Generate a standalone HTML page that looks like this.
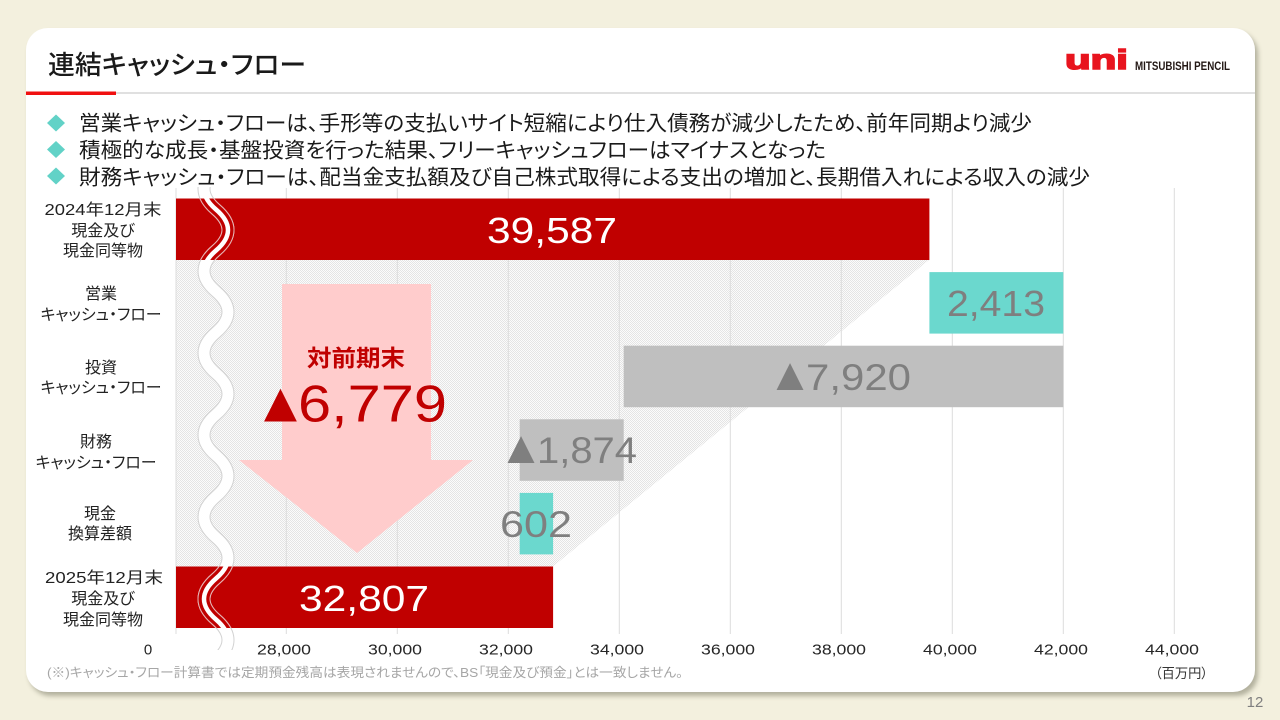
<!DOCTYPE html>
<html><head><meta charset="utf-8"><style>
html,body{margin:0;padding:0;}
body{width:1280px;height:720px;overflow:hidden;background:#f3f0de;position:relative;font-family:"Liberation Sans","Noto Sans CJK JP",sans-serif;}
.card{position:absolute;left:26px;top:28px;width:1229px;height:664px;background:#fff;border-radius:22px;box-shadow:3px 4px 5px rgba(100,100,80,0.45);}
svg{position:absolute;left:0;top:0;}
text{font-family:"Liberation Sans","Noto Sans CJK JP",sans-serif;font-feature-settings:"palt";}
</style></head><body>
<div class="card"></div>
<svg width="1280" height="720" viewBox="0 0 1280 720" xmlns="http://www.w3.org/2000/svg">
<defs>
<pattern id="dots" width="2" height="2" patternUnits="userSpaceOnUse">
<rect width="2" height="2" fill="#fbfbfb"/>
<rect x="0" y="0" width="1" height="1" fill="#e4e4e4"/>
<rect x="1" y="1" width="1" height="1" fill="#e4e4e4"/>
</pattern>
<clipPath id="waveclip"><rect x="150" y="187" width="120" height="463"/></clipPath>
<clipPath id="barclip">
<rect x="176" y="198.5" width="753" height="61.5"/>
<rect x="176" y="566.5" width="377" height="61.5"/>
</clipPath>
</defs>

<!-- title -->
<text x="48" y="74" font-size="26" font-weight="500" fill="#1a1a1a" textLength="258" lengthAdjust="spacingAndGlyphs">連結キャッシュ・フロー</text>
<rect x="26" y="92.5" width="1229" height="1" fill="#c0c0c0"/>
<rect x="26" y="91.5" width="90" height="3.5" fill="#f01010"/>

<!-- logo -->
<text x="1065" y="69" font-size="28" font-weight="bold" fill="#e8141e" stroke="#e8141e" stroke-width="1.6" textLength="63" lengthAdjust="spacingAndGlyphs">uni</text>
<text x="1135" y="70" font-size="11.5" font-weight="bold" fill="#231815" textLength="95" lengthAdjust="spacingAndGlyphs">MITSUBISHI PENCIL</text>

<!-- bullets -->
<polygon points="56,114.5 65,123 56,131.5 47,123" fill="#62d2c7"/>
<polygon points="56,141 65,149.5 56,158 47,149.5" fill="#62d2c7"/>
<polygon points="56,167.5 65,176 56,184.5 47,176" fill="#62d2c7"/>
<text x="79" y="130.5" font-size="21" fill="#1a1a1a" textLength="953" lengthAdjust="spacingAndGlyphs">営業キャッシュ・フローは、手形等の支払いサイト短縮により仕入債務が減少したため、前年同期より減少</text>
<text x="79" y="157.5" font-size="21" fill="#1a1a1a" textLength="747" lengthAdjust="spacingAndGlyphs">積極的な成長・基盤投資を行った結果、フリーキャッシュフローはマイナスとなった</text>
<text x="79" y="184.5" font-size="21" fill="#1a1a1a" textLength="1011" lengthAdjust="spacingAndGlyphs">財務キャッシュ・フローは、配当金支払額及び自己株式取得による支出の増加と、長期借入れによる収入の減少</text>

<!-- hatch area -->
<polygon points="176,260 929,260 553,566.5 176,566.5" fill="url(#dots)"/>

<!-- gridlines -->
<g stroke="#dcdcdc" stroke-width="1">
<line x1="176" y1="188" x2="176" y2="634"/>
<line x1="286.3" y1="188" x2="286.3" y2="634"/>
<line x1="397.3" y1="188" x2="397.3" y2="634"/>
<line x1="508.3" y1="188" x2="508.3" y2="634"/>
<line x1="619.3" y1="188" x2="619.3" y2="634"/>
<line x1="730.3" y1="188" x2="730.3" y2="634"/>
<line x1="841.3" y1="188" x2="841.3" y2="634"/>
<line x1="952.3" y1="188" x2="952.3" y2="634"/>
<line x1="1063.3" y1="188" x2="1063.3" y2="634"/>
<line x1="1174.3" y1="188" x2="1174.3" y2="634"/>
</g>

<!-- bars -->
<rect x="176" y="198.5" width="753.4" height="61.5" fill="#c00000"/>
<rect x="929.4" y="272.1" width="133.9" height="61.5" fill="#6bd8ce"/>
<rect x="623.7" y="345.7" width="439.6" height="61.5" fill="#bfbfbf"/>
<rect x="519.7" y="419.3" width="104" height="61.5" fill="#bfbfbf"/>
<rect x="519.7" y="492.9" width="33.4" height="61.5" fill="#6bd8ce"/>
<rect x="176" y="566.5" width="377.1" height="61.5" fill="#c00000"/>

<!-- pink arrow -->
<polygon points="282,284 431,284 431,460 473,460 357,553 239,460 282,460" fill="#ffcccc"/>

<!-- wave break -->
<g clip-path="url(#waveclip)" fill="none">
<path d="M 216,168.5 Q 192,189 216,209.5 T 216,250.5 T 216,291.5 T 216,332.5 T 216,373.5 T 216,414.5 T 216,455.5 T 216,496.5 T 216,537.5 T 216,578.5 T 216,619.5 T 216,660.5" stroke="#d2d2d2" stroke-width="13"/>
<path d="M 216,168.5 Q 192,189 216,209.5 T 216,250.5 T 216,291.5 T 216,332.5 T 216,373.5 T 216,414.5 T 216,455.5 T 216,496.5 T 216,537.5 T 216,578.5 T 216,619.5 T 216,660.5" stroke="#ffffff" stroke-width="11"/>
</g>
<g clip-path="url(#barclip)" fill="none">
<path d="M 216,168.5 Q 192,189 216,209.5 T 216,250.5 T 216,291.5 T 216,332.5 T 216,373.5 T 216,414.5 T 216,455.5 T 216,496.5 T 216,537.5 T 216,578.5 T 216,619.5 T 216,660.5" stroke="#e7b3b3" stroke-width="13"/>
<path d="M 216,168.5 Q 192,189 216,209.5 T 216,250.5 T 216,291.5 T 216,332.5 T 216,373.5 T 216,414.5 T 216,455.5 T 216,496.5 T 216,537.5 T 216,578.5 T 216,619.5 T 216,660.5" stroke="#c00000" stroke-width="11"/>
<path d="M 216,168.5 Q 192,189 216,209.5 T 216,250.5 T 216,291.5 T 216,332.5 T 216,373.5 T 216,414.5 T 216,455.5 T 216,496.5 T 216,537.5 T 216,578.5 T 216,619.5 T 216,660.5" stroke="#ffffff" stroke-width="4.5"/>
</g>

<!-- bar value labels -->
<text x="487" y="243" font-size="36" fill="#ffffff" textLength="130" lengthAdjust="spacingAndGlyphs">39,587</text>
<text x="947" y="316" font-size="36" fill="#7f7f7f" textLength="98" lengthAdjust="spacingAndGlyphs">2,413</text>
<text x="790" y="390" font-size="46" fill="#7f7f7f" text-anchor="middle">▲</text>
<text x="806" y="390" font-size="37" fill="#7f7f7f" textLength="105" lengthAdjust="spacingAndGlyphs">7,920</text>
<text x="521" y="463" font-size="46" fill="#7f7f7f" text-anchor="middle">▲</text>
<text x="537" y="463" font-size="37" fill="#7f7f7f" textLength="100" lengthAdjust="spacingAndGlyphs">1,874</text>
<text x="500" y="537" font-size="37" fill="#7f7f7f" textLength="72" lengthAdjust="spacingAndGlyphs">602</text>
<text x="299" y="611" font-size="36" fill="#ffffff" textLength="130" lengthAdjust="spacingAndGlyphs">32,807</text>

<!-- arrow labels -->
<text x="307" y="366" font-size="23" font-weight="bold" fill="#c00000" textLength="98" lengthAdjust="spacingAndGlyphs">対前期末</text>
<text x="280.5" y="421.5" font-size="56" fill="#c00000" text-anchor="middle">▲</text>
<text x="298" y="421.5" font-size="52" fill="#c00000" textLength="149" lengthAdjust="spacingAndGlyphs">6,779</text>

<!-- category labels -->
<g font-size="16" fill="#222" text-anchor="middle">
<text x="103" y="215" textLength="117" lengthAdjust="spacingAndGlyphs">2024年12月末</text>
<text x="103" y="236">現金及び</text>
<text x="103" y="256">現金同等物</text>
<text x="101" y="299">営業</text>
<text x="101" y="320" textLength="121" lengthAdjust="spacingAndGlyphs">キャッシュ・フロー</text>
<text x="101" y="373">投資</text>
<text x="101" y="393" textLength="121" lengthAdjust="spacingAndGlyphs">キャッシュ・フロー</text>
<text x="96" y="447">財務</text>
<text x="96" y="468" textLength="121" lengthAdjust="spacingAndGlyphs">キャッシュ・フロー</text>
<text x="100" y="519">現金</text>
<text x="100" y="539">換算差額</text>
<text x="104" y="583" textLength="118" lengthAdjust="spacingAndGlyphs">2025年12月末</text>
<text x="103" y="604">現金及び</text>
<text x="103" y="625">現金同等物</text>
</g>

<!-- axis labels -->
<g font-size="15" fill="#262626" text-anchor="middle">
<text x="148" y="654.5">0</text>
<text x="284" y="654.5" textLength="54" lengthAdjust="spacingAndGlyphs">28,000</text>
<text x="395" y="654.5" textLength="54" lengthAdjust="spacingAndGlyphs">30,000</text>
<text x="506" y="654.5" textLength="54" lengthAdjust="spacingAndGlyphs">32,000</text>
<text x="617" y="654.5" textLength="54" lengthAdjust="spacingAndGlyphs">34,000</text>
<text x="728" y="654.5" textLength="54" lengthAdjust="spacingAndGlyphs">36,000</text>
<text x="839" y="654.5" textLength="54" lengthAdjust="spacingAndGlyphs">38,000</text>
<text x="950" y="654.5" textLength="54" lengthAdjust="spacingAndGlyphs">40,000</text>
<text x="1061" y="654.5" textLength="54" lengthAdjust="spacingAndGlyphs">42,000</text>
<text x="1172" y="654.5" textLength="54" lengthAdjust="spacingAndGlyphs">44,000</text>
</g>

<!-- footnote / unit -->
<text x="47" y="677" font-size="13" fill="#a6a6a6" textLength="636" lengthAdjust="spacingAndGlyphs">(※)キャッシュ・フロー計算書では定期預金残高は表現されませんので、BS「現金及び預金」とは一致しません。</text>
<text x="1155" y="678" font-size="13.5" fill="#333" textLength="53" lengthAdjust="spacingAndGlyphs">（百万円）</text>

<!-- page number -->
<text x="1255" y="707" font-size="15" fill="#7f7f7f" text-anchor="middle">12</text>
</svg>
</body></html>
